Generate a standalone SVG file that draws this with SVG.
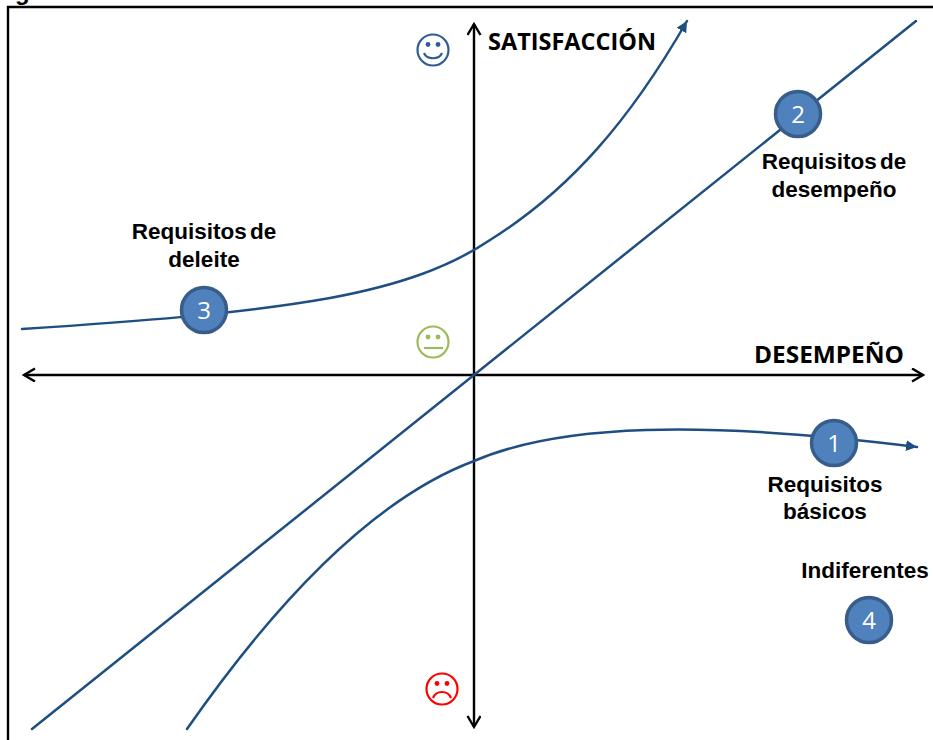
<svg xmlns="http://www.w3.org/2000/svg" width="933" height="740" viewBox="0 0 933 740">
<style>
.lbl{font:bold 22.5px "Liberation Sans",Arial,sans-serif;fill:#000;text-anchor:middle;word-spacing:-3px}
.ax{font:bold 23px "Open Sans",sans-serif;fill:#000}
.num{font:24px "Open Sans",sans-serif;fill:#fff;text-anchor:middle}
.b{fill:#4f81bd;stroke:#385d8a;stroke-width:3.5}
.c{fill:none;stroke:#1f4e82;stroke-width:2.5;stroke-linecap:round}
.ar{fill:none;stroke:#000;stroke-width:2.4}
.f{fill:none;stroke-width:2.2}
</style>
<defs>
<marker id="tri" markerUnits="userSpaceOnUse" markerWidth="13" markerHeight="12" refX="11" refY="5.500" orient="auto"><path d="M0 0L11 5.500L0 11Z" fill="#1f4e82"/></marker>
<marker id="open" markerUnits="userSpaceOnUse" markerWidth="16" markerHeight="16" refX="12" refY="7" orient="auto-start-reverse"><path d="M1 0.5L12 7L1 13.5" fill="none" stroke="#000" stroke-width="2.4"/></marker>
</defs>
<text x="15" y="0" style="font:bold 24px 'Liberation Sans',sans-serif">g</text>
<path d="M8 740V7H933" fill="none" stroke="#000" stroke-width="2.4"/>
<g id="connectors">
<path class="ar" d="M474 24V727" marker-start="url(#open)" marker-end="url(#open)"/>
<path class="ar" d="M24 375H923" marker-start="url(#open)" marker-end="url(#open)"/>
<path class="c" d="M32 729L916 21"/>
<path class="c" d="M22 329C130 322 240 314 330 298C400 285 450 267 490 240C570 190 630 120 687 21" marker-end="url(#tri)"/>
<path class="c" d="M187 729C270 610 370 500 474 461C560 424 700 420 917 447" marker-end="url(#tri)"/>
</g>
<g id="face-happy"><circle class="f" cx="433" cy="50" r="15.500" stroke="#2f5d93"/><circle cx="428" cy="44.500" r="2.400" fill="#2f5d93"/><circle cx="438" cy="44.500" r="2.400" fill="#2f5d93"/><path class="f" d="M424 53C427 60 439 60 442 53" stroke="#2f5d93"/></g>
<g id="face-neutral"><circle class="f" cx="433" cy="342" r="15.500" stroke="#9bbb59"/><circle cx="428" cy="337" r="2.400" fill="#9bbb59"/><circle cx="438" cy="337" r="2.400" fill="#9bbb59"/><path class="f" d="M424 348H443" stroke="#9bbb59"/></g>
<g id="face-sad"><circle class="f" cx="442" cy="689" r="15.500" stroke="#f00"/><circle cx="437" cy="683.500" r="2.400" fill="#f00"/><circle cx="447" cy="683.500" r="2.400" fill="#f00"/><path class="f" d="M433 698C436 690 448 690 451 698" stroke="#f00"/></g>
<g id="label-satisfaccion"><text class="ax" x="488" y="50" textLength="168" lengthAdjust="spacingAndGlyphs">SATISFACCIÓN</text></g>
<g id="label-desempeno"><text class="ax" x="754" y="363" textLength="150" lengthAdjust="spacingAndGlyphs">DESEMPEÑO</text></g>
<g id="node-1"><circle class="b" cx="834" cy="443" r="22.500"/><text class="num" x="834" y="452">1</text><text class="lbl" x="825" y="492">Requisitos</text><text class="lbl" x="825" y="519">básicos</text></g>
<g id="node-2"><circle class="b" cx="798" cy="114" r="22.500"/><text class="num" x="798" y="123">2</text><text class="lbl" x="834" y="169">Requisitos de</text><text class="lbl" x="834" y="197">desempeño</text></g>
<g id="node-3"><circle class="b" cx="204" cy="310" r="22.500"/><text class="num" x="204" y="319">3</text><text class="lbl" x="204" y="239">Requisitos de</text><text class="lbl" x="204" y="267">deleite</text></g>
<g id="node-4"><circle class="b" cx="869" cy="620" r="22.500"/><text class="num" x="869" y="629">4</text><text class="lbl" x="865" y="578">Indiferentes</text></g>
</svg>
